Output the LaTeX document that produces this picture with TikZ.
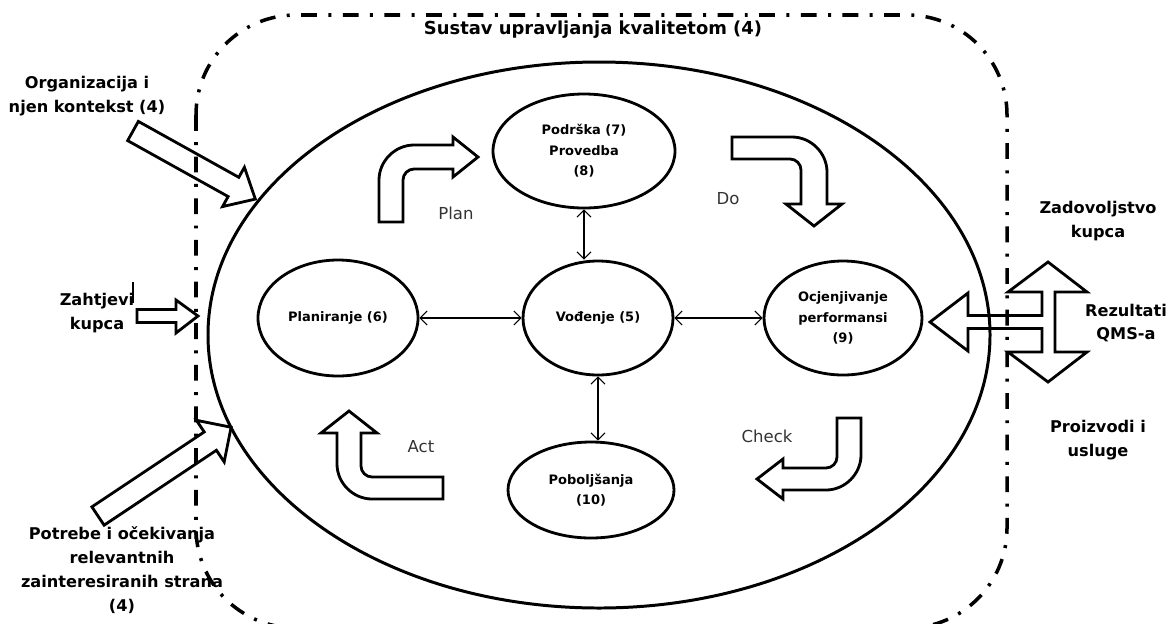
\documentclass[tikz,border=0pt]{standalone}
\usepackage{fontspec}
\setmainfont{DejaVu Sans}
\usetikzlibrary{shapes.geometric,arrows.meta}
\newdimen\px \px=0.02cm

\begin{document}
\begin{tikzpicture}[x=0.02cm, y=-0.02cm,
  every node/.style={inner sep=0pt, align=center},
  outlbl/.style={font=\bfseries\fontsize{9.2}{13.6}\selectfont},
  phase/.style={draw, ellipse, line width=1.6pt, font=\bfseries\fontsize{7.4}{11.6}\selectfont},
  pdca/.style={font=\fontsize{9.4}{11}\selectfont, text=black!80},
  blk/.style={draw, line width=1.6pt},
  conn/.style={<->, line width=0.6pt, >={Straight Barb[length=4pt,width=8pt]}},
  boundary/.style={line width=2pt, dash pattern=on 9pt off 6.5pt on 1.7pt off 6.5pt}]
\useasboundingbox (0,0) rectangle (1168,623);
% System boundary
\draw[boundary, rounded corners=2cm] (196,15) rectangle (1007,628);
\node[font=\bfseries\fontsize{10.2}{12}\selectfont] (title) at (593,30) {Sustav upravljanja kvalitetom (4)};
% Main ellipse
\node[draw, ellipse, line width=1.7pt, minimum width=782\px, minimum height=546\px] (qms) at (599,335) {};
% Clauses
\node[phase, minimum width=182\px, minimum height=114\px] (pod) at (584,151) {Podrška (7)\\Provedba\\(8)};
\node[phase, minimum width=150\px, minimum height=114\px] (vod) at (598,318) {Vođenje (5)};
\node[phase, minimum width=160\px, minimum height=116\px] (plan) at (338,318) {Planiranje (6)};
\node[phase, minimum width=158\px, minimum height=114\px] (ocj) at (843,318) {Ocjenjivanje\\performansi\\(9)};
\node[phase, minimum width=166\px, minimum height=96\px] (pob) at (591,490) {Poboljšanja\\(10)};
% Links to leadership
\draw[conn] (pod) -- (pod |- vod.north);
\draw[conn] (vod) -- (vod |- pob.north);
\draw[conn] (plan) -- (vod);
\draw[conn] (vod) -- (ocj);
% PDCA cycle
\node[pdca] (planlbl) at (456,213) {Plan};
\node[pdca] (dolbl) at (728,199) {Do};
\node[pdca] (checklbl) at (767,436) {Check};
\node[pdca] (actlbl) at (421,447) {Act};
\draw[blk] (379,222) -- (379,180) .. controls (379,161) and (395,145) .. (414,145) -- (453,145) -- (453,137) -- (478,157) -- (453,177) -- (453,169) -- (414,169) .. controls (408,169) and (403,174) .. (403,180) -- (403,222) -- cycle;
\draw[blk] (732,137) -- (792,137) .. controls (811,137) and (827,153) .. (827,172) -- (827,204) -- (842,204) -- (814,226) -- (786,204) -- (801,204) -- (801,170) .. controls (801,164) and (796,159) .. (790,159) -- (732,159) -- cycle;
\draw[blk] (837,418) -- (861,418) -- (861,455) .. controls (861,474) and (845,490) .. (826,490) -- (783,490) -- (783,499) -- (757,479) -- (783,459) -- (783,468) -- (826,468) .. controls (832,468) and (837,463) .. (837,457) -- cycle;
\draw[blk] (443,477) -- (372,477) .. controls (366,477) and (361,472) .. (361,466) -- (361,433) -- (377,433) -- (349,411) -- (321,433) -- (337,433) -- (337,464) .. controls (337,483) and (353,499) .. (372,499) -- (443,499) -- cycle;
% Inputs
\node[outlbl] (org) at (87,96) {Organizacija i\\njen kontekst (4)};
\node[outlbl] (zaht) at (97,313) {Zahtjevi\\kupca};
\node[outlbl] (potr) at (122,570) {Potrebe i očekivanja\\relevantnih\\zainteresiranih strana\\(4)};
\draw[line width=0.8pt] (133,282) -- (133,303);
\draw[blk, shift={(133,131)}, rotate=-29.1] (0,-11) -- (115,-11) -- (115,-22.5) -- (140,0) -- (115,22.5) -- (115,11) -- (0,11) -- cycle;
\draw[blk] (137,309.5) -- (176,309.5) -- (176,300) -- (198,316) -- (176,333) -- (176,322.5) -- (137,322.5) -- cycle;
\draw[blk, shift={(98,516)}, rotate=33.7] (0,-11) -- (135,-11) -- (135,-25) -- (160,0) -- (135,25) -- (135,11) -- (0,11) -- cycle;
% Outputs
\node[outlbl] (zad) at (1098,221) {Zadovoljstvo\\kupca};
\node[outlbl] (rez) at (1126,323) {Rezultati\\QMS-a};
\node[outlbl] (proiz) at (1098,440) {Proizvodi i\\usluge};
\draw[blk] (930,322) -- (968,293) -- (968,315.5) -- (1042,315.5) -- (1042,292) -- (1008,292) -- (1048,262) -- (1087,292) -- (1055,292) -- (1055,352) -- (1087,352) -- (1048,382) -- (1008,352) -- (1042,352) -- (1042,328.5) -- (968,328.5) -- (968,351) -- cycle;
\end{tikzpicture}
\end{document}
